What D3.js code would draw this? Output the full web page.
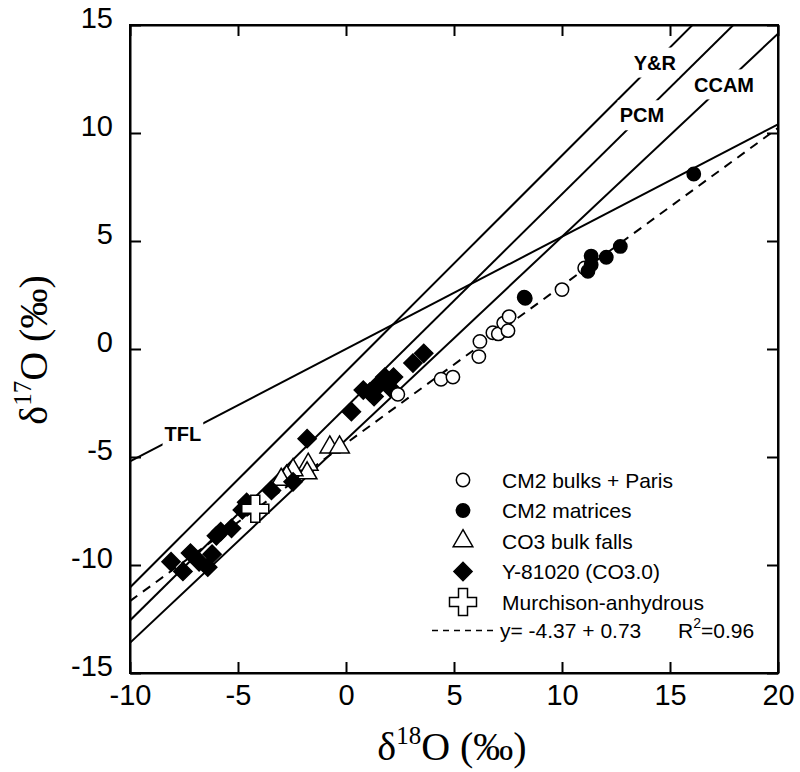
<!DOCTYPE html>
<html><head><meta charset="utf-8">
<script src="https://cdn.jsdelivr.net/npm/d3@7"></script>
<style>body{margin:0;background:#fff}</style>
</head><body><svg id="chart" width="800" height="772"></svg>
<script>
// ---- data ----
const xTicks = [-10, -5, 0, 5, 10, 15, 20];
const yTicks = [-15, -10, -5, 0, 5, 10, 15];

const cm2BulksX = [2.4, 4.4, 4.95, 6.15, 6.2, 6.8, 7.05, 7.3, 7.55, 7.5, 10.0, 11.05];
const cm2BulksY = [-2.1, -1.4, -1.3, -0.35, 0.35, 0.75, 0.7, 1.2, 1.5, 0.85, 2.75, 3.75];

const cm2MatricesX = [8.25, 8.3, 11.2, 11.35, 11.35, 12.05, 12.7, 16.1];
const cm2MatricesY = [2.4, 2.35, 3.6, 3.9, 4.3, 4.25, 4.75, 8.1];

const co3BulkX = [-0.75, -0.3, -1.75, -1.8, -2.45, -2.75, -3.0];
const co3BulkY = [-4.55, -4.55, -5.35, -5.75, -5.6, -5.9, -6.05];

const y81020X = [-8.1, -7.55, -7.2, -6.8, -6.4, -6.2, -6.0, -5.8, -5.3, -4.8, -4.6, -3.45, -2.45, -1.8, 0.25, 0.8, 1.1, 1.3, 1.5, 1.8, 2.05, 2.2, 3.1, 3.6];
const y81020Y = [-9.85, -10.3, -9.45, -9.85, -10.1, -9.5, -8.65, -8.45, -8.3, -7.45, -7.1, -6.55, -6.15, -4.15, -2.9, -1.9, -2.0, -2.2, -1.7, -1.3, -1.8, -1.3, -0.65, -0.2];

const murchX = [-4.2];
const murchY = [-7.4];

const refNames = ["TFL", "Y&R", "PCM", "CCAM"];
const refSlopes = [0.52, 1.0, 0.987, 0.94];
const refIntercepts = [0, -1.04, -2.70, -4.2];
const refLabelX = [-7.55, 14.3, 13.7, 17.5];

const regIntercept = -4.37;
const regSlope = 0.73;

const legendLabels = ["CM2 bulks + Paris", "CM2 matrices", "CO3 bulk falls", "Y-81020 (CO3.0)", "Murchison-anhydrous"];

// ---- layout ----
const svg = d3.select("#chart");
const L = 130, R = 778, T = 25, B = 673;
const x = d3.scaleLinear().domain([-10, 20]).range([L, R]);
const y = d3.scaleLinear().domain([-15, 15]).range([B, T]);

svg.append("defs").append("clipPath").attr("id", "clip")
  .append("rect").attr("x", L).attr("y", T).attr("width", R - L).attr("height", B - T);

const plot = svg.append("g").attr("clip-path", "url(#clip)");

// reference lines
const xs = [-10, 20];
refNames.forEach((n, i) => {
  plot.append("line")
    .attr("x1", x(xs[0])).attr("y1", y(refIntercepts[i] + refSlopes[i] * xs[0]))
    .attr("x2", x(xs[1])).attr("y2", y(refIntercepts[i] + refSlopes[i] * xs[1]))
    .attr("stroke", "#000").attr("stroke-width", 2);
});
// regression line
plot.append("line")
  .attr("x1", x(-10)).attr("y1", y(regIntercept + regSlope * -10))
  .attr("x2", x(20)).attr("y2", y(regIntercept + regSlope * 20))
  .attr("stroke", "#000").attr("stroke-width", 2).attr("stroke-dasharray", "9,7");

// line labels with white background
refNames.forEach((n, i) => {
  const lx = x(refLabelX[i]);
  const ly = y(refIntercepts[i] + refSlopes[i] * refLabelX[i]);
  const g = plot.append("g");
  const t = g.append("text").attr("x", lx).attr("y", ly).attr("dy", "0.36em")
    .attr("text-anchor", "middle").attr("font-family", "Liberation Sans, Arial, sans-serif")
    .attr("font-weight", "bold").attr("font-size", 20).text(n);
  const bb = t.node().getBBox();
  g.insert("rect", "text").attr("x", bb.x - 2).attr("y", ly - 15).attr("width", bb.width + 4).attr("height", 30).attr("fill", "#fff");
});

// symbols
const sym = {
  circle: d3.symbol().type(d3.symbolCircle).size(140),
  triangle: d3.symbol().type(d3.symbolTriangle).size(167),
  diamond: d3.symbol().type(d3.symbolSquare).size(165),
  cross: d3.symbol().type(d3.symbolCross).size(405)
};
function drawPts(X, Y, kind, fill) {
  plot.selectAll(null).data(X.map((v, i) => [v, Y[i]])).enter().append("path")
    .attr("d", sym[kind]())
    .attr("transform", d => `translate(${x(d[0])},${y(d[1])})` + (kind === "diamond" ? " rotate(45)" : ""))
    .attr("fill", fill).attr("stroke", "#000").attr("stroke-width", 1.5);
}
drawPts(co3BulkX, co3BulkY, "triangle", "#fff");
drawPts(y81020X, y81020Y, "diamond", "#000");
drawPts(cm2BulksX, cm2BulksY, "circle", "#fff");
drawPts(cm2MatricesX, cm2MatricesY, "circle", "#000");
drawPts(murchX, murchY, "cross", "#fff");

// axes
const tickFont = "Liberation Sans, Arial, sans-serif";
const fmt = d => String(d);
const ax = svg.append("g").attr("transform", `translate(0,${B})`)
  .call(d3.axisBottom(x).tickValues(xTicks).tickFormat(fmt).tickSize(-11).tickSizeOuter(0).tickPadding(11));
const ay = svg.append("g").attr("transform", `translate(${L},0)`)
  .call(d3.axisLeft(y).tickValues(yTicks).tickFormat(fmt).tickSize(-11).tickSizeOuter(0).tickPadding(17));
const at = svg.append("g").attr("transform", `translate(0,${T})`)
  .call(d3.axisTop(x).tickValues(xTicks).tickSize(-11).tickSizeOuter(0).tickFormat(""));
const ar = svg.append("g").attr("transform", `translate(${R},0)`)
  .call(d3.axisRight(y).tickValues(yTicks).tickSize(-11).tickSizeOuter(0).tickFormat(""));
[ax, ay, at, ar].forEach(g => {
  g.selectAll("path,line").attr("stroke", "#000").attr("stroke-width", 2);
  g.selectAll("text").attr("font-family", tickFont).attr("font-size", 29).attr("fill", "#000");
});
ay.selectAll("text").attr("dy", "0.32em").attr("y", -7);
// rectangular frame
svg.append("rect").attr("x", L).attr("y", T).attr("width", R - L).attr("height", B - T)
  .attr("fill", "none").attr("stroke", "#000").attr("stroke-width", 2);

// axis titles
const serif = "Liberation Serif, Times New Roman, serif";
const xt = svg.append("text").attr("x", 452).attr("y", 760).attr("text-anchor", "middle")
  .attr("font-family", serif).attr("font-size", 40);
xt.append("tspan").text("δ");
xt.append("tspan").attr("font-size", 25).attr("dy", -16).text("18");
xt.append("tspan").attr("dy", 16).text("O (‰)");

const yt = svg.append("text").attr("transform", "translate(47,350) rotate(-90)").attr("text-anchor", "middle")
  .attr("font-family", serif).attr("font-size", 40);
yt.append("tspan").text("δ");
yt.append("tspan").attr("font-size", 25).attr("dy", -16).text("17");
yt.append("tspan").attr("dy", 16).text("O (‰)");

// legend
const lg = svg.append("g").attr("font-family", tickFont).attr("font-size", 21);
const legKinds = [["circle", "#fff"], ["circle", "#000"], ["triangle", "#fff"], ["diamond", "#000"], ["cross", "#fff"]];
const legY0 = 480, legDy = 30.5, legSymX = 463, legTextX = 502;
legendLabels.forEach((lab, i) => {
  const cy = legY0 + i * legDy;
  const k = legKinds[i][0];
  lg.append("path").attr("d", sym[k]())
    .attr("transform", `translate(${legSymX},${cy})` + (k === "diamond" ? " rotate(45)" : ""))
    .attr("fill", legKinds[i][1]).attr("stroke", "#000").attr("stroke-width", 1.5);
  lg.append("text").attr("x", legTextX).attr("y", cy).attr("dy", "0.36em").text(lab);
});
const regY = legY0 + 5 * legDy - 2;
lg.append("line").attr("x1", 432).attr("x2", 496).attr("y1", regY).attr("y2", regY)
  .attr("stroke", "#000").attr("stroke-width", 1.5).attr("stroke-dasharray", "6,5");
lg.append("text").attr("x", 500).attr("y", regY).attr("dy", "0.36em")
  .text(`y= ${regIntercept} + ${regSlope}`);
const r2 = lg.append("text").attr("x", 678).attr("y", regY).attr("dy", "0.36em");
r2.append("tspan").text("R");
r2.append("tspan").attr("font-size", 14).attr("dy", -10).text("2");
r2.append("tspan").attr("dy", 10).text("=0.96");
</script></body></html>
